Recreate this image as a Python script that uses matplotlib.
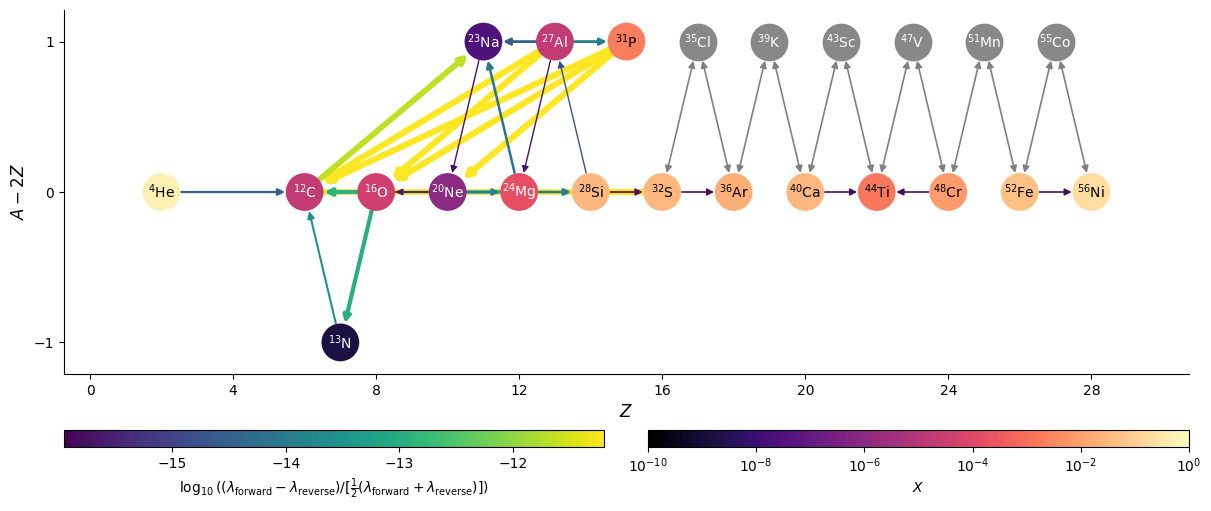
import numpy as np
import matplotlib
matplotlib.use("Agg")
import matplotlib.pyplot as plt
from matplotlib.patches import FancyArrowPatch
from matplotlib.colors import Normalize, LogNorm
from matplotlib.cm import ScalarMappable

# nuclei: name, A, Z, mass fraction
names = ["He", "C", "N", "O", "Ne", "Na", "Mg", "Al", "Si", "P", "S",
         "Ar", "Ca", "Ti", "Cr", "Fe", "Ni"]
mass = [4, 12, 13, 16, 20, 23, 24, 27, 28, 31, 32, 36, 40, 44, 48, 52, 56]
zval = [2, 6, 7, 8, 10, 11, 12, 13, 14, 15, 16, 18, 20, 22, 24, 26, 28]
xfrac = [0.5, 2e-5, 1.5e-9, 4e-5, 1e-6, 3e-8, 1.5e-4, 2e-5, 3e-2, 2e-3,
         3e-2, 2e-2, 3e-2, 1.5e-3, 8e-3, 5e-2, 2e-1]
dark_text = ["He", "Si", "P", "S", "Ar", "Ca", "Ti", "Cr", "Fe", "Ni"]

# nuclei outside the composition (drawn grey)
grey_names = ["Cl", "K", "Sc", "V", "Mn", "Co"]
grey_mass = [35, 39, 43, 47, 51, 55]
grey_z = [17, 19, 21, 23, 25, 27]

# rate links: source, target, log10 value, width, head?
links = [
    ("O16", "C12", -11.2, 4.0, False), ("Ne20", "O16", -11.2, 4.0, False),
    ("Ne20", "Mg24", -11.2, 4.0, False), ("Mg24", "Si28", -11.2, 4.0, False),
    ("Si28", "S32", -11.2, 4.5, False),
    ("Al27", "C12", -11.2, 4.5, True), ("Al27", "O16", -11.2, 4.5, True),
    ("P31", "C12", -11.2, 4.5, True), ("P31", "O16", -11.2, 4.5, True),
    ("P31", "Ne20", -11.2, 4.5, True),
    ("C12", "Na23", -11.65, 4.2, True),
    ("O16", "C12", -12.9, 3.0, True), ("O16", "N13", -12.95, 3.0, True),
    ("Ne20", "Mg24", -12.9, 2.6, False),
    ("N13", "C12", -13.6, 1.5, True),
    ("Ne20", "Mg24", -13.85, 1.6, True), ("Mg24", "Si28", -13.9, 1.8, True),
    ("Al27", "P31", -13.95, 2.0, True), ("Mg24", "Na23", -14.15, 1.8, True),
    ("Ne20", "O16", -14.6, 1.6, False), ("Al27", "Na23", -14.5, 2.0, True),
    ("He4", "C12", -14.5, 1.6, True), ("Si28", "Al27", -14.75, 1.0, True),
    ("Na23", "Ne20", -15.75, 1.0, True), ("Al27", "Mg24", -15.7, 1.0, True),
    ("Ne20", "O16", -15.7, 1.0, True), ("Si28", "S32", -15.8, 1.2, True),
    ("S32", "Ar36", -15.8, 1.2, True), ("Ca40", "Ti44", -15.8, 1.2, True),
    ("Cr48", "Ti44", -15.8, 1.2, True), ("Fe52", "Ni56", -15.8, 1.2, True),
]

# two-way links to the grey nuclei
grey_links = [("S32", "Cl35"), ("Cl35", "Ar36"), ("Ar36", "K39"), ("K39", "Ca40"),
              ("Ca40", "Sc43"), ("Sc43", "Ti44"), ("Ti44", "V47"), ("V47", "Cr48"),
              ("Cr48", "Mn51"), ("Mn51", "Fe52"), ("Fe52", "Co55"), ("Co55", "Ni56")]

pos = {}
for n, a, z in zip(names, mass, zval):
    pos[f"{n}{a}"] = (z, a - 2 * z)
for n, a, z in zip(grey_names, grey_mass, grey_z):
    pos[f"{n}{a}"] = (z, a - 2 * z)

fig = plt.figure(figsize=(12.11, 5.11), dpi=100)
ax = fig.add_axes([0.0528, 0.2681, 0.929, 0.7123])

vmin, vmax = -15.95, -11.2
enorm = Normalize(vmin=vmin, vmax=vmax)
ecmap = plt.get_cmap("viridis")
xnorm = LogNorm(vmin=1e-10, vmax=1.0)
xcmap = plt.get_cmap("magma")

node_s = 740
shrink = 0.5 * np.sqrt(node_s) + 0.5

for src, dst, val, w, head in links:
    style = "-|>" if head else "-"
    arr = FancyArrowPatch(pos[src], pos[dst], arrowstyle=style, mutation_scale=10,
                          color=ecmap(enorm(val)), lw=w, shrinkA=shrink, shrinkB=shrink,
                          zorder=2)
    ax.add_patch(arr)

for src, dst in grey_links:
    arr = FancyArrowPatch(pos[src], pos[dst], arrowstyle="<|-|>", mutation_scale=10,
                          color="gray", lw=1.2, shrinkA=shrink, shrinkB=shrink, zorder=2)
    ax.add_patch(arr)

# nodes
xs = [pos[f"{n}{a}"][0] for n, a in zip(names, mass)]
ys = [pos[f"{n}{a}"][1] for n, a in zip(names, mass)]
ax.scatter(xs, ys, s=node_s, c=xfrac, cmap=xcmap, norm=xnorm, zorder=3, linewidths=0)
gx = [pos[f"{n}{a}"][0] for n, a in zip(grey_names, grey_mass)]
gy = [pos[f"{n}{a}"][1] for n, a in zip(grey_names, grey_mass)]
ax.scatter(gx, gy, s=node_s, color="#888888", zorder=3, linewidths=0)

for n, a in zip(names, mass):
    tc = "black" if n in dark_text else "white"
    ax.text(*pos[f"{n}{a}"], f"$^{{{a}}}$" + n, ha="center", va="center",
            fontsize=10, color=tc, zorder=4)
for n, a in zip(grey_names, grey_mass):
    ax.text(*pos[f"{n}{a}"], f"$^{{{a}}}$" + n, ha="center", va="center",
            fontsize=10, color="white", zorder=4)

ax.set_xlim(-0.73, 30.73)
ax.set_ylim(-1.21, 1.21)
ax.set_xticks([0, 4, 8, 12, 16, 20, 24, 28])
ax.set_yticks([-1, 0, 1])
ax.set_xlabel(r"$Z$", fontsize=12)
ax.set_ylabel(r"$A - 2Z$", fontsize=12)
ax.spines["top"].set_visible(False)
ax.spines["right"].set_visible(False)

cax1 = fig.add_axes([0.0528, 0.1252, 0.446, 0.0333])
cb1 = fig.colorbar(ScalarMappable(norm=enorm, cmap=ecmap), cax=cax1, orientation="horizontal")
cb1.set_ticks([-15, -14, -13, -12])
cb1.set_label(r"$\log_{10} ((\lambda_\mathrm{forward} - \lambda_\mathrm{reverse})"
              r"/[\frac{1}{2}(\lambda_\mathrm{forward} + \lambda_\mathrm{reverse})])$")

cax2 = fig.add_axes([0.5351, 0.1252, 0.4467, 0.0333])
cb2 = fig.colorbar(ScalarMappable(norm=xnorm, cmap=xcmap), cax=cax2, orientation="horizontal")
cb2.set_ticks([1e-10, 1e-8, 1e-6, 1e-4, 1e-2, 1])
cb2.minorticks_off()
cb2.set_label(r"$X$")

fig.savefig("out.png", dpi=100)
